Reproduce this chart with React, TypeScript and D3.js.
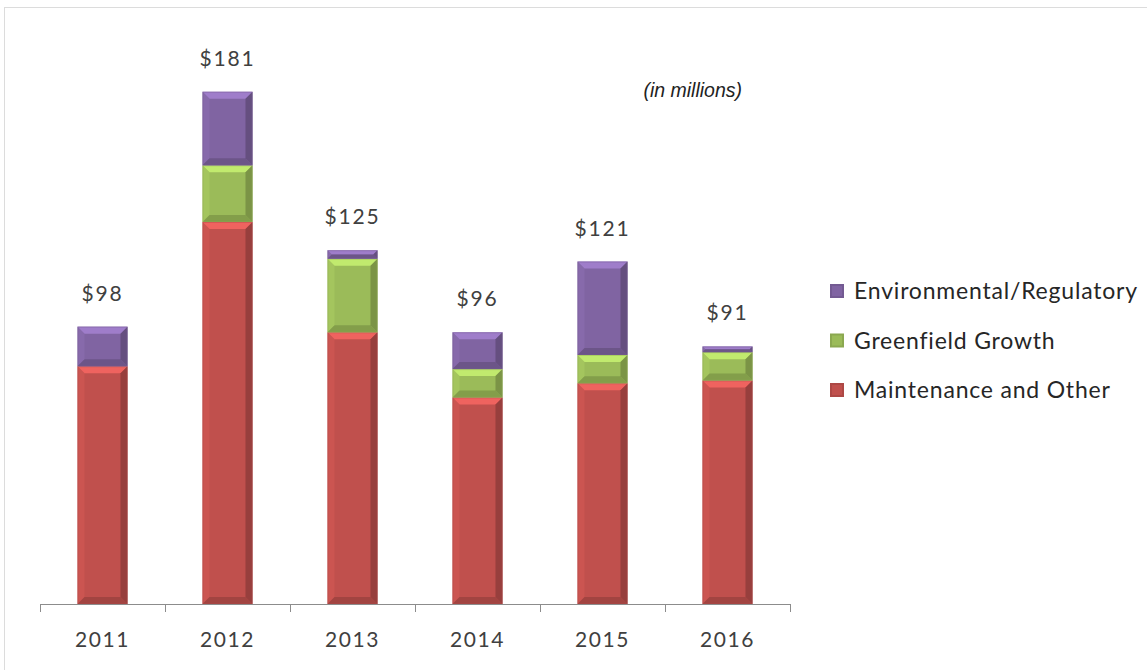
import { useEffect, useRef } from "react";
import * as d3 from "d3";

const years = ["2011", "2012", "2013", "2014", "2015", "2016"];
const totals = [98, 181, 125, 96, 121, 91];
const maintenance = [84, 135, 96, 73, 78, 79];
const greenfield = [0, 20, 26, 10, 10, 10];
const environmental = [14, 26, 3, 13, 33, 2];

const seriesNames = ["Maintenance and Other", "Greenfield Growth", "Environmental/Regulatory"];
const seriesColors = ["#c0504d", "#9bbb59", "#8064a2"];

const FONT = "Lato, 'Open Sans', sans-serif";

export default function App() {
  const svgRef = useRef<SVGSVGElement>(null);

  useEffect(() => {
    const svg = d3.select(svgRef.current);
    svg.selectAll("*").remove();

    const W = 1147;
    const H = 670;
    svg.attr("width", W).attr("height", H);

    // faint outer frame
    svg
      .append("rect")
      .attr("x", 4.5)
      .attr("y", 7.5)
      .attr("width", W + 20)
      .attr("height", H + 20)
      .attr("fill", "#fff")
      .attr("stroke", "#dcdcdc");

    const x = d3.scaleBand<string>().domain(years).range([40, 790]).paddingInner(0.6).paddingOuter(0.3);
    const y = d3.scaleLinear().domain([0, 200]).range([604, 38]);

    const table = years.map((yr, i) => ({
      year: yr,
      [seriesNames[0]]: maintenance[i],
      [seriesNames[1]]: greenfield[i],
      [seriesNames[2]]: environmental[i],
    }));
    const stacked = d3.stack<any>().keys(seriesNames)(table);

    const g = svg.append("g");

    // bevelled segment
    const bevel = (x0: number, y0: number, w: number, h: number, color: string) => {
      const c = d3.color(color)!;
      const b = Math.min(7, h / 2, w / 2);
      const seg = g.append("g");
      seg.append("rect").attr("x", x0).attr("y", y0).attr("width", w).attr("height", h).attr("fill", color);
      const x1 = x0 + w;
      const y1 = y0 + h;
      const poly = (pts: number[][], fill: string, op: number) =>
        seg.append("polygon").attr("points", pts.map((p) => p.join(",")).join(" ")).attr("fill", fill).attr("opacity", op);
      // top light
      poly([[x0, y0], [x1, y0], [x1 - b, y0 + b], [x0 + b, y0 + b]], c.brighter(0.8).toString(), 0.75);
      // left light
      poly([[x0, y0], [x0 + b, y0 + b], [x0 + b, y1 - b], [x0, y1]], c.brighter(0.3).toString(), 0.5);
      // right dark
      poly([[x1, y0], [x1, y1], [x1 - b, y1 - b], [x1 - b, y0 + b]], c.darker(1.0).toString(), 0.7);
      // bottom dark
      poly([[x0, y1], [x0 + b, y1 - b], [x1 - b, y1 - b], [x1, y1]], c.darker(0.7).toString(), 0.7);
      seg.append("rect").attr("x", x0 + 0.5).attr("y", y0 + 0.5).attr("width", w - 1).attr("height", Math.max(0, h - 1))
        .attr("fill", "none").attr("stroke", c.darker(0.3).toString()).attr("stroke-width", 1).attr("opacity", 0.4);
    };

    stacked.forEach((layer, si) => {
      layer.forEach((d) => {
        const top = y(d[1]);
        const bot = y(d[0]);
        if (bot - top <= 0) return;
        bevel(x(d.data.year)!, top, x.bandwidth(), bot - top, seriesColors[si]);
      });
    });

    // axis
    const axisY = y(0);
    g.append("line").attr("x1", 40).attr("x2", 790).attr("y1", axisY + 0.5).attr("y2", axisY + 0.5).attr("stroke", "#8c8c8c");
    const step = x.step();
    d3.range(years.length + 1).forEach((i) => {
      const tx = Math.round(40 + i * step) + 0.5;
      g.append("line").attr("x1", tx).attr("x2", tx).attr("y1", axisY).attr("y2", axisY + 8).attr("stroke", "#8c8c8c");
    });

    years.forEach((yr) => {
      g.append("text")
        .attr("x", x(yr)! + x.bandwidth() / 2)
        .attr("y", 647)
        .attr("text-anchor", "middle")
        .attr("font-family", FONT)
        .attr("font-size", 21)
        .attr("letter-spacing", 1.6)
        .attr("fill", "#404040")
        .text(yr);
    });

    // total labels
    years.forEach((yr, i) => {
      g.append("text")
        .attr("x", x(yr)! + x.bandwidth() / 2)
        .attr("y", y(totals[i]) - 26)
        .attr("text-anchor", "middle")
        .attr("font-family", FONT)
        .attr("font-size", 21)
        .attr("letter-spacing", 1.8)
        .attr("fill", "#404040")
        .text(`$${totals[i]}`);
    });

    // units note
    g.append("text")
      .attr("x", 742)
      .attr("y", 97)
      .attr("text-anchor", "end")
      .attr("font-family", "'Liberation Sans', Arial, sans-serif")
      .attr("font-style", "italic")
      .attr("font-size", 19.5)
      .attr("fill", "#222")
      .text("(in millions)");

    // legend
    const legendOrder = [2, 1, 0];
    legendOrder.forEach((si, row) => {
      const cy = 291 + row * 49.5;
      const c = d3.color(seriesColors[si])!;
      g.append("rect").attr("x", 830).attr("y", cy - 7).attr("width", 14).attr("height", 14).attr("fill", c.darker(0.3).toString());
      g.append("rect").attr("x", 832).attr("y", cy - 5).attr("width", 10).attr("height", 10).attr("fill", seriesColors[si]);
      g.append("text")
        .attr("x", 854)
        .attr("y", cy + 8)
        .attr("font-family", FONT)
        .attr("font-size", 23)
        .attr("letter-spacing", 0.8)
        .attr("fill", "#262626")
        .text(seriesNames[si]);
    });
  }, []);

  return <svg ref={svgRef} style={{ position: "absolute", left: 0, top: 0 }} />;
}
